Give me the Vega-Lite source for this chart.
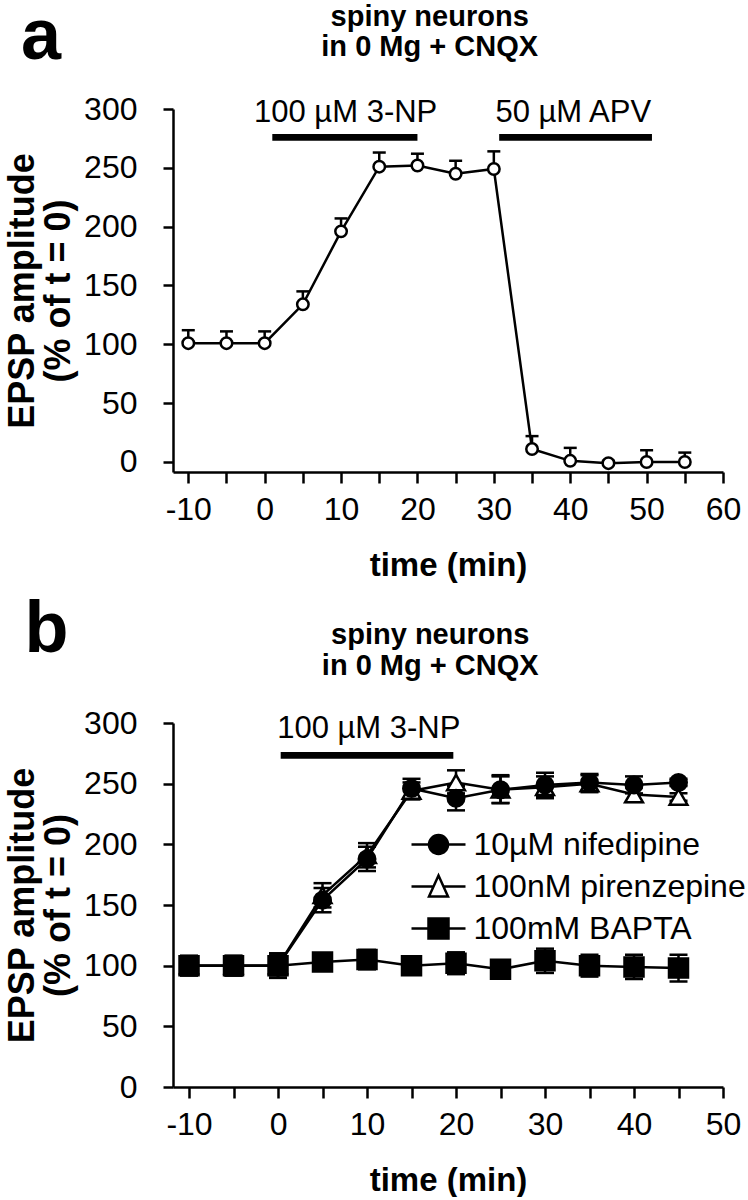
{
  "$schema": "https://vega.github.io/schema/vega-lite/v6.json",
  "background": "white",
  "padding": {"left": 4, "top": 1, "right": 0, "bottom": 0},
  "spacing": 11,
  "config": {
    "font": "Liberation Sans",
    "view": {"stroke": null},
    "axis": {
      "domainColor": "black", "domainWidth": 2.5, "tickColor": "black", "tickWidth": 2.5,
      "grid": false, "labelColor": "black", "labelFont": "Liberation Sans", "labelFontSize": 32,
      "titleColor": "black", "titleFont": "Liberation Sans", "titleFontWeight": "bold",
      "labelOverlap": false, "labelFlush": false
    },
    "text": {"font": "Liberation Sans", "color": "black"}
  },
  "datasets": {
    "panelA": [
      {"time": -10, "value": 101, "hi": 112},
      {"time": -5, "value": 101, "hi": 111},
      {"time": 0, "value": 101, "hi": 111},
      {"time": 5, "value": 134, "hi": 145},
      {"time": 10, "value": 196, "hi": 207},
      {"time": 15, "value": 251, "hi": 263},
      {"time": 20, "value": 252, "hi": 262},
      {"time": 25, "value": 245, "hi": 256},
      {"time": 30, "value": 249, "hi": 264},
      {"time": 35, "value": 11, "hi": 22},
      {"time": 40, "value": 1, "hi": 12},
      {"time": 45, "value": -1, "hi": 1},
      {"time": 50, "value": 0, "hi": 10},
      {"time": 55, "value": 0, "hi": 8}
    ],
    "panelB": [
      {"series": "100nM pirenzepine", "time": -10, "value": 100, "lo": 92, "hi": 108},
      {"series": "100nM pirenzepine", "time": -5, "value": 100, "lo": 92, "hi": 108},
      {"series": "100nM pirenzepine", "time": 0, "value": 100, "lo": 90, "hi": 110},
      {"series": "100nM pirenzepine", "time": 5, "value": 158, "lo": 148, "hi": 168},
      {"series": "100nM pirenzepine", "time": 10, "value": 191, "lo": 181, "hi": 201},
      {"series": "100nM pirenzepine", "time": 15, "value": 244, "lo": 237, "hi": 251},
      {"series": "100nM pirenzepine", "time": 20, "value": 251, "lo": 242, "hi": 261},
      {"series": "100nM pirenzepine", "time": 25, "value": 245, "lo": 234, "hi": 257},
      {"series": "100nM pirenzepine", "time": 30, "value": 247, "lo": 238, "hi": 256},
      {"series": "100nM pirenzepine", "time": 35, "value": 250, "lo": 243, "hi": 257},
      {"series": "100nM pirenzepine", "time": 40, "value": 241, "lo": 235, "hi": 247},
      {"series": "100nM pirenzepine", "time": 45, "value": 239, "lo": 236, "hi": 242},
      {"series": "10µM nifedipine", "time": -10, "value": 100, "lo": 92, "hi": 108},
      {"series": "10µM nifedipine", "time": -5, "value": 100, "lo": 92, "hi": 108},
      {"series": "10µM nifedipine", "time": 0, "value": 100, "lo": 90, "hi": 110},
      {"series": "10µM nifedipine", "time": 5, "value": 154, "lo": 144, "hi": 164},
      {"series": "10µM nifedipine", "time": 10, "value": 188, "lo": 178, "hi": 198},
      {"series": "10µM nifedipine", "time": 15, "value": 246, "lo": 238, "hi": 254},
      {"series": "10µM nifedipine", "time": 20, "value": 238, "lo": 228, "hi": 248},
      {"series": "10µM nifedipine", "time": 25, "value": 245, "lo": 234, "hi": 256},
      {"series": "10µM nifedipine", "time": 30, "value": 249, "lo": 240, "hi": 259},
      {"series": "10µM nifedipine", "time": 35, "value": 251, "lo": 244, "hi": 258},
      {"series": "10µM nifedipine", "time": 40, "value": 249, "lo": 242, "hi": 256},
      {"series": "10µM nifedipine", "time": 45, "value": 251, "lo": 248, "hi": 254},
      {"series": "100mM BAPTA", "time": -10, "value": 100, "lo": 92, "hi": 108},
      {"series": "100mM BAPTA", "time": -5, "value": 100, "lo": 92, "hi": 108},
      {"series": "100mM BAPTA", "time": 0, "value": 100, "lo": 90, "hi": 110},
      {"series": "100mM BAPTA", "time": 5, "value": 103, "lo": 100, "hi": 106},
      {"series": "100mM BAPTA", "time": 10, "value": 105, "lo": 97, "hi": 113},
      {"series": "100mM BAPTA", "time": 15, "value": 100, "lo": 95, "hi": 105},
      {"series": "100mM BAPTA", "time": 20, "value": 102, "lo": 93, "hi": 111},
      {"series": "100mM BAPTA", "time": 25, "value": 97, "lo": 94, "hi": 100},
      {"series": "100mM BAPTA", "time": 30, "value": 104, "lo": 94, "hi": 114},
      {"series": "100mM BAPTA", "time": 35, "value": 100, "lo": 91, "hi": 109},
      {"series": "100mM BAPTA", "time": 40, "value": 99, "lo": 89, "hi": 109},
      {"series": "100mM BAPTA", "time": 45, "value": 98, "lo": 87, "hi": 109}
    ]
  },
  "vconcat": [
    {
      "width": 550,
      "height": 363,
      "data": {"name": "panelA"},
      "encoding": {
        "x": {
          "field": "time", "type": "quantitative",
          "scale": {"domain": [-12, 60], "nice": false, "zero": false},
          "axis": {
            "values": [-10, -5, 0, 5, 10, 15, 20, 25, 30, 35, 40, 45, 50, 55, 60],
            "labelExpr": "datum.value % 10 === 0 ? '' + datum.value : ''",
            "tickSize": 11, "labelPadding": 11,
            "title": "time (min)", "titleFontSize": 33, "titlePadding": 24
          }
        },
        "y": {
          "field": "value", "type": "quantitative",
          "scale": {"domain": [-8.5, 300], "nice": false, "zero": false},
          "axis": {
            "values": [0, 50, 100, 150, 200, 250, 300],
            "tickSize": 10, "labelPadding": 26,
            "title": ["EPSP amplitude", "(% of t = 0)"], "titleFontSize": 36,
            "titleLineHeight": 36, "titlePadding": 6
          }
        }
      },
      "layer": [
        {
          "mark": {"type": "rule", "color": "black", "strokeWidth": 2.5},
          "encoding": {"y2": {"field": "hi"}}
        },
        {
          "mark": {"type": "tick", "orient": "horizontal", "color": "black", "size": 13, "thickness": 2.5, "opacity": 1},
          "encoding": {"y": {"field": "hi", "type": "quantitative"}}
        },
        {
          "mark": {"type": "line", "color": "black", "strokeWidth": 2.5},
          "encoding": {}
        },
        {
          "mark": {"type": "point", "shape": "circle", "filled": true, "fill": "white", "stroke": "black", "strokeWidth": 2.5, "size": 132, "opacity": 1},
          "encoding": {}
        },
        {
          "transform": [{"filter": "datum.time === -10"}],
          "mark": {"type": "rect", "color": "black", "opacity": 1},
          "encoding": {
            "x": {"datum": 1},
            "x2": {"datum": 20},
            "y": {"datum": 273},
            "y2": {"datum": 278.7}
          }
        },
        {
          "transform": [{"filter": "datum.time === -10"}],
          "mark": {"type": "rect", "color": "black", "opacity": 1},
          "encoding": {
            "x": {"datum": 30.7},
            "x2": {"datum": 50.7},
            "y": {"datum": 273},
            "y2": {"datum": 278.7}
          }
        },
        {
          "transform": [{"filter": "datum.time === -10"}],
          "mark": {"type": "text", "text": "100 µM 3-NP", "fontSize": 31, "align": "center", "baseline": "alphabetic"},
          "encoding": {"x": {"datum": 10.6}, "y": {"datum": 288.9}}
        },
        {
          "transform": [{"filter": "datum.time === -10"}],
          "mark": {"type": "text", "text": "50 µM APV", "fontSize": 31, "align": "center", "baseline": "alphabetic"},
          "encoding": {"x": {"datum": 40.4}, "y": {"datum": 288.9}}
        },
        {
          "transform": [{"filter": "datum.time === -10"}],
          "mark": {"type": "text", "text": "a", "fontSize": 72, "fontWeight": "bold", "align": "left", "baseline": "alphabetic"},
          "encoding": {"x": {"datum": -31.9}, "y": {"datum": 342.4}}
        },
        {
          "transform": [{"filter": "datum.time === -10"}],
          "mark": {"type": "text", "text": "spiny neurons", "fontSize": 29, "fontWeight": "bold", "align": "center", "baseline": "alphabetic"},
          "encoding": {"x": {"datum": 21.6}, "y": {"datum": 370.4}}
        },
        {
          "transform": [{"filter": "datum.time === -10"}],
          "mark": {"type": "text", "text": "in 0 Mg + CNQX", "fontSize": 29, "fontWeight": "bold", "align": "center", "baseline": "alphabetic"},
          "encoding": {"x": {"datum": 21.6}, "y": {"datum": 344.9}}
        }
      ]
    },
    {
      "width": 550,
      "height": 364,
      "data": {"name": "panelB"},
      "encoding": {
        "x": {
          "field": "time", "type": "quantitative",
          "scale": {"domain": [-11.8, 50], "nice": false, "zero": false},
          "axis": {
            "values": [-10, -5, 0, 5, 10, 15, 20, 25, 30, 35, 40, 45, 50],
            "labelExpr": "datum.value % 10 === 0 ? '' + datum.value : ''",
            "tickSize": 11, "labelPadding": 11,
            "title": "time (min)", "titleFontSize": 33, "titlePadding": 24
          }
        },
        "y": {
          "field": "value", "type": "quantitative",
          "scale": {"domain": [0, 300], "nice": false, "zero": false},
          "axis": {
            "values": [0, 50, 100, 150, 200, 250, 300],
            "tickSize": 10, "labelPadding": 26,
            "title": ["EPSP amplitude", "(% of t = 0)"], "titleFontSize": 36,
            "titleLineHeight": 36, "titlePadding": 6
          }
        }
      },
      "layer": [
        {
          "mark": {"type": "line", "color": "black", "strokeWidth": 2.5},
          "encoding": {"detail": {"field": "series", "type": "nominal"}}
        },
        {
          "mark": {"type": "rule", "color": "black", "strokeWidth": 2.5},
          "encoding": {"y": {"field": "lo", "type": "quantitative"}, "y2": {"field": "hi"}}
        },
        {
          "mark": {"type": "tick", "orient": "horizontal", "color": "black", "size": 18, "thickness": 2.5, "opacity": 1},
          "encoding": {"y": {"field": "hi", "type": "quantitative"}}
        },
        {
          "mark": {"type": "tick", "orient": "horizontal", "color": "black", "size": 18, "thickness": 2.5, "opacity": 1},
          "encoding": {"y": {"field": "lo", "type": "quantitative"}}
        },
        {
          "mark": {"type": "point", "filled": true, "stroke": "black", "strokeWidth": 2.5, "opacity": 1},
          "encoding": {
            "shape": {"field": "series", "type": "nominal", "scale": {"domain": ["10µM nifedipine", "100nM pirenzepine", "100mM BAPTA"], "range": ["circle", "triangle-up", "square"]}, "legend": null},
            "fill": {"field": "series", "type": "nominal", "scale": {"domain": ["10µM nifedipine", "100nM pirenzepine", "100mM BAPTA"], "range": ["black", "white", "black"]}, "legend": null},
            "size": {"field": "series", "type": "nominal", "scale": {"domain": ["10µM nifedipine", "100nM pirenzepine", "100mM BAPTA"], "range": [272, 361, 342]}, "legend": null}
          }
        },
        {
          "mark": {"type": "point", "filled": true, "stroke": "black", "strokeWidth": 2.5, "size": 1600, "clip": true, "opacity": 1},
          "encoding": {
            "y": {"datum": 1000},
            "shape": {
              "field": "series", "type": "nominal",
              "scale": {
                "domain": ["10µM nifedipine", "100nM pirenzepine", "100mM BAPTA"],
                "range": [
                  "M-1.35,0H-0.475M0.475,0H1.35M0.475,0A0.475,0.475,0,1,1,-0.475,0A0.475,0.475,0,1,1,0.475,0Z",
                  "M-1.35,0H-0.25M0.25,0H1.35M0,-0.55L0.475,0.5L-0.475,0.5Z",
                  "M-1.35,0H-0.5M0.5,0H1.35M-0.5,-0.5H0.5V0.5H-0.5Z"
                ]
              },
              "legend": {
                "title": null, "orient": "none", "legendX": 244, "legendY": 100,
                "symbolSize": 1600, "symbolStrokeWidth": 2.5, "symbolStrokeColor": "black",
                "labelFontSize": 32, "labelFont": "Liberation Sans", "labelColor": "black",
                "labelOffset": 13.5, "rowPadding": 4, "padding": 0, "labelLimit": 400
              }
            },
            "fill": {
              "field": "series", "type": "nominal",
              "scale": {"domain": ["10µM nifedipine", "100nM pirenzepine", "100mM BAPTA"], "range": ["black", "white", "black"]},
              "legend": {
                "title": null, "orient": "none", "legendX": 244, "legendY": 100,
                "symbolSize": 1600, "symbolStrokeWidth": 2.5, "symbolStrokeColor": "black",
                "labelFontSize": 32, "labelFont": "Liberation Sans", "labelColor": "black",
                "labelOffset": 13.5, "rowPadding": 4, "padding": 0, "labelLimit": 400
              }
            },
            "stroke": {
              "field": "series", "type": "nominal",
              "scale": {"domain": ["10µM nifedipine", "100nM pirenzepine", "100mM BAPTA"], "range": ["black", "black", "black"]},
              "legend": {
                "title": null, "orient": "none", "legendX": 244, "legendY": 100,
                "symbolSize": 1600, "symbolStrokeWidth": 2.5, "symbolStrokeColor": "black",
                "labelFontSize": 32, "labelFont": "Liberation Sans", "labelColor": "black",
                "labelOffset": 13.5, "rowPadding": 4, "padding": 0, "labelLimit": 400
              }
            }
          }
        },
        {
          "transform": [{"filter": "datum.time === -10 && datum.series === '100mM BAPTA'"}],
          "mark": {"type": "rect", "color": "black", "opacity": 1},
          "encoding": {
            "x": {"datum": 0.3},
            "x2": {"datum": 19.7},
            "y": {"datum": 270.6},
            "y2": {"datum": 276.2}
          }
        },
        {
          "transform": [{"filter": "datum.time === -10 && datum.series === '100mM BAPTA'"}],
          "mark": {"type": "text", "text": "100 µM 3-NP", "fontSize": 31, "align": "center", "baseline": "alphabetic"},
          "encoding": {"x": {"datum": 10.2}, "y": {"datum": 287.3}}
        },
        {
          "transform": [{"filter": "datum.time === -10 && datum.series === '100mM BAPTA'"}],
          "mark": {"type": "text", "text": "b", "fontSize": 72, "fontWeight": "bold", "align": "left", "baseline": "alphabetic"},
          "encoding": {"x": {"datum": -28.5}, "y": {"datum": 358.6}}
        },
        {
          "transform": [{"filter": "datum.time === -10 && datum.series === '100mM BAPTA'"}],
          "mark": {"type": "text", "text": "spiny neurons", "fontSize": 29, "fontWeight": "bold", "align": "center", "baseline": "alphabetic"},
          "encoding": {"x": {"datum": 17.1}, "y": {"datum": 365.2}}
        },
        {
          "transform": [{"filter": "datum.time === -10 && datum.series === '100mM BAPTA'"}],
          "mark": {"type": "text", "text": "in 0 Mg + CNQX", "fontSize": 29, "fontWeight": "bold", "align": "center", "baseline": "alphabetic"},
          "encoding": {"x": {"datum": 17.1}, "y": {"datum": 339.7}}
        }
      ],
      "resolve": {"scale": {"shape": "independent", "fill": "independent", "size": "independent", "stroke": "independent"}}
    }
  ]
}
